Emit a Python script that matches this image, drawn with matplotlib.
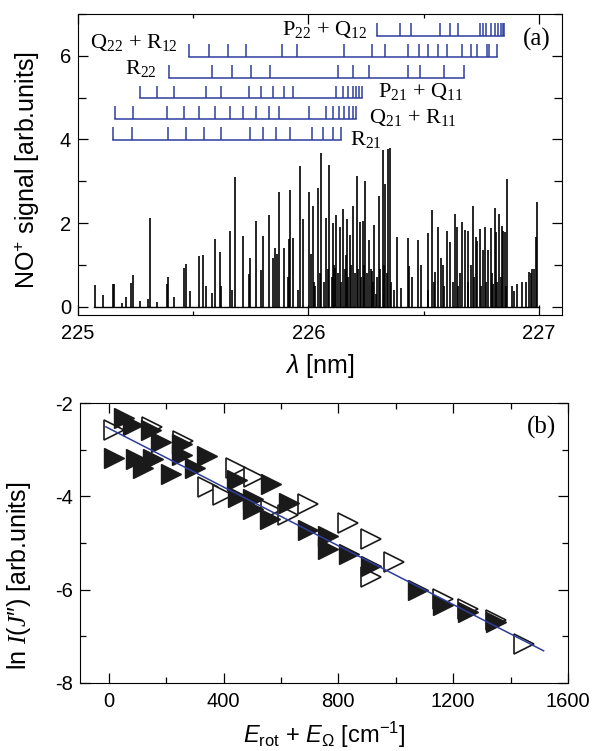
import matplotlib
matplotlib.use('Agg')
import matplotlib.pyplot as plt
from matplotlib.ticker import MultipleLocator

# fonts: sans for ticks/axis labels, serif for branch labels
plt.rcParams['font.family'] = ['Liberation Sans', 'DejaVu Sans']
plt.rcParams['mathtext.fontset'] = 'custom'
plt.rcParams['mathtext.rm'] = 'Liberation Sans'
plt.rcParams['mathtext.it'] = 'Liberation Sans:italic'
plt.rcParams['mathtext.sf'] = 'Liberation Serif'          # used for branch subscripts
plt.rcParams['mathtext.bf'] = 'Liberation Serif:italic'   # used for I, J
plt.rcParams['axes.unicode_minus'] = False

# ---- (a) REMPI spectrum: line positions [nm] and heights
peak_nm = [225.074, 225.110, 225.154, 225.158, 225.190, 225.208, 225.232, 225.237,
           225.268, 225.304, 225.312, 225.341, 225.384, 225.391, 225.416, 225.459,
           225.468, 225.485, 225.525, 225.544, 225.554, 225.580, 225.596, 225.615,
           225.622, 225.658, 225.668, 225.683, 225.716, 225.742, 225.748, 225.774,
           225.795, 225.804, 225.827, 225.845, 225.853, 225.863, 225.874, 225.892,
           225.910, 225.915, 225.921, 225.935, 225.954, 225.964, 225.978, 226.004,
           226.012, 226.019, 226.026, 226.042, 226.056, 226.077, 226.091, 226.108,
           226.117, 226.121, 226.137, 226.148, 226.163, 226.167, 226.181, 226.195,
           226.209, 226.225, 226.238, 226.247, 226.264, 226.276, 226.286, 226.293,
           226.305, 226.322, 226.333, 226.345, 226.354, 226.382, 226.401, 226.433,
           226.437, 226.449, 226.476, 226.488, 226.519, 226.536, 226.550, 226.560,
           226.574, 226.584, 226.599, 226.615, 226.635, 226.644, 226.657, 226.668,
           226.680, 226.694, 226.704, 226.714, 226.726, 226.733, 226.743, 226.758,
           226.766, 226.781, 226.791, 226.801, 226.810, 226.815, 226.827, 226.839,
           226.846, 226.853, 226.863, 226.882, 226.892, 226.906, 226.925, 226.942,
           226.957, 226.964, 226.971, 226.978, 226.986, 226.993]
peak_h = [0.51, 0.27, 0.55, 0.55, 0.08, 0.24, 0.57, 0.75,
          0.14, 0.18, 2.13, 0.10, 0.55, 0.70, 0.22, 0.92,
          1.02, 0.38, 1.22, 1.24, 0.50, 0.33, 1.62, 1.30,
          0.50, 1.82, 0.40, 3.10, 1.70, 0.77, 1.16, 2.05,
          0.88, 1.70, 2.20, 1.16, 1.40, 1.27, 2.75, 1.40,
          0.70, 1.62, 2.78, 1.63, 0.40, 3.36, 2.10, 2.75,
          1.27, 2.40, 0.60, 2.84, 3.67, 2.12, 3.40, 2.00,
          0.92, 2.20, 1.90, 2.33, 1.23, 2.10, 1.72, 2.40,
          3.13, 2.03, 2.05, 3.00, 1.60, 0.85, 1.95, 0.30,
          2.64, 3.75, 2.94, 3.78, 3.80, 1.66, 0.45, 1.64,
          0.98, 0.70, 1.60, 1.00, 1.75, 2.32, 0.83, 1.90,
          1.17, 1.00, 1.80, 1.55, 2.22, 1.90, 0.80, 2.03,
          1.83, 1.82, 1.00, 2.40, 1.67, 1.57, 1.85, 1.36,
          1.90, 1.35, 1.87, 0.55, 2.37, 1.79, 2.22, 1.93,
          1.80, 1.79, 3.06, 0.50, 0.38, 0.54, 0.60, 0.60,
          0.83, 0.80, 0.90, 0.90, 1.67, 2.50]
# weaker unresolved lines in the dense part
weak_nm = [226.030, 226.050, 226.068, 226.085, 226.100, 226.112, 226.128, 226.142,
           226.158, 226.172, 226.186, 226.200, 226.215, 226.230, 226.243, 226.255,
           226.270, 226.282, 226.298, 226.310, 226.328, 226.340, 226.360, 226.372,
           226.520, 226.545, 226.590, 226.625, 226.650, 226.690, 226.720, 226.750,
           226.770, 226.795, 226.820, 226.835, 226.858]
weak_h = [0.5, 0.8, 0.6, 0.9, 0.7, 1.0, 0.8, 0.6,
          0.9, 0.7, 1.0, 0.8, 0.9, 0.7, 1.0, 0.8,
          0.9, 0.6, 0.7, 0.9, 1.0, 0.8, 0.6, 0.4,
          0.4, 0.6, 0.5, 0.6, 0.5, 0.6, 0.7, 0.5,
          0.6, 0.8, 0.6, 0.7, 0.5]

# rotational branch assignments (line positions, nm) and their comb levels
branch_names = ['P$_{\\mathsf{22}}$ + Q$_{\\mathsf{12}}$', 'Q$_{\\mathsf{22}}$ + R$_{\\mathsf{12}}$',
                'R$_{\\mathsf{22}}$', 'P$_{\\mathsf{21}}$ + Q$_{\\mathsf{11}}$',
                'Q$_{\\mathsf{21}}$ + R$_{\\mathsf{11}}$', 'R$_{\\mathsf{21}}$']
branch_level = [6.48, 5.98, 5.48, 4.98, 4.49, 3.99]
branch_lines = [
    [226.297, 226.398, 226.447, 226.571, 226.613, 226.649, 226.743, 226.758, 226.772,
     226.791, 226.808, 226.823, 226.834, 226.844, 226.848],
    [225.481, 225.568, 225.651, 225.730, 225.884, 225.951, 226.156, 226.276, 226.332,
     226.433, 226.481, 226.519, 226.560, 226.603, 226.668, 226.704, 226.733, 226.776,
     226.784, 226.817],
    [225.395, 225.583, 225.668, 225.752, 225.831, 226.127, 226.195, 226.261, 226.433,
     226.484, 226.586, 226.675],
    [225.268, 225.343, 225.416, 225.557, 225.622, 225.742, 225.795, 225.846, 225.892,
     225.935, 226.120, 226.148, 226.170, 226.192, 226.207, 226.221, 226.232],
    [225.160, 225.237, 225.387, 225.459, 225.524, 225.596, 225.658, 225.716, 225.774,
     225.828, 225.874, 226.004, 226.077, 226.105, 226.131, 226.156, 226.177, 226.195,
     226.206],
    [225.150, 225.235, 225.391, 225.468, 225.545, 225.622, 225.748, 225.802, 225.860,
     225.918, 226.014, 226.062, 226.105, 226.141],
]

# ---- (b) Boltzmann plot
open_E = [18, 150, 258, 345, 397, 445, 505, 566, 626, 693, 835, 913, 914, 994,
          1163, 1253, 1348, 1446]
open_lnI = [-2.58, -2.52, -2.82, -3.80, -3.97, -3.40, -3.58, -4.29, -4.41, -4.17,
            -4.57, -4.91, -5.72, -5.41, -6.20, -6.42, -6.66, -7.16]
filled_E = [53, 86, 148, 20, 94, 119, 154, 181, 218, 257, 255, 299, 343, 448, 449,
            503, 503, 565, 563, 627, 693, 763, 763, 837, 914, 1076, 1163, 1253, 1348]
filled_lnI = [-2.33, -2.47, -2.57, -3.17, -3.19, -3.39, -3.21, -2.83, -3.53, -2.88,
              -3.12, -3.40, -3.14, -3.66, -4.02, -4.05, -4.27, -3.74, -4.49, -4.14,
              -4.72, -4.84, -5.13, -5.23, -5.50, -6.00, -6.33, -6.47, -6.70]
fit_E = [-10, 1515]
fit_lnI = [-2.51, -7.31]

blue = '#2e3d9c'

fig = plt.figure(figsize=(5.92, 7.51), dpi=100)

# ---------------- panel (a)
ax1 = fig.add_axes([78 / 592, 1 - 315 / 751, 484 / 592, 301 / 751])
ax1.plot([225.07, 227.0], [0, 0], color='black', lw=1.0)
ax1.vlines(peak_nm, 0, peak_h, color='black', lw=1.2)
ax1.vlines(weak_nm, 0, weak_h, color='black', lw=1.2)

for lines, lev in zip(branch_lines, branch_level):
    ax1.plot([lines[0], lines[-1]], [lev, lev], color=blue, lw=1.1)
    ax1.vlines(lines, lev, lev + 0.3, color=blue, lw=1.1)

serif = ['Liberation Serif', 'DejaVu Serif']
ax1.text(226.255, 6.62, branch_names[0], ha='right', va='center', fontsize=16, family=serif)
ax1.text(225.433, 6.31, branch_names[1], ha='right', va='center', fontsize=16, family=serif)
ax1.text(225.342, 5.67, branch_names[2], ha='right', va='center', fontsize=16, family=serif)
ax1.text(226.303, 5.13, branch_names[3], ha='left', va='center', fontsize=16, family=serif)
ax1.text(226.264, 4.50, branch_names[4], ha='left', va='center', fontsize=16, family=serif)
ax1.text(226.182, 3.98, branch_names[5], ha='left', va='center', fontsize=16, family=serif)
ax1.text(0.948, 0.914, '(a)', transform=ax1.transAxes, ha='center', va='center',
         fontsize=18, family=serif)

ax1.set_xlim(225, 227.1)
ax1.set_ylim(-0.2, 7.0)
ax1.xaxis.set_major_locator(MultipleLocator(1))
ax1.xaxis.set_minor_locator(MultipleLocator(0.5))
ax1.yaxis.set_major_locator(MultipleLocator(2))
ax1.yaxis.set_minor_locator(MultipleLocator(1))
ax1.tick_params(which='both', direction='in', top=True, right=True, labelsize=14.5, width=0.9)
ax1.tick_params(which='major', length=7)
ax1.tick_params(axis='x', which='minor', length=3)
ax1.tick_params(axis='y', which='minor', length=6)
ax1.tick_params(axis='x', pad=6.5)
ax1.tick_params(axis='y', pad=5)
ax1.set_xlabel('$\\lambda$ [nm]', fontsize=18)
ax1.set_ylabel('NO$^{+}$ signal [arb.units]', fontsize=18)
ax1.xaxis.set_label_coords(0.5, -0.123)
ax1.yaxis.set_label_coords(-0.074, 0.48)

# ---------------- panel (b)
ax2 = fig.add_axes([80 / 592, 1 - 683 / 751, 488 / 592, 280 / 751])
ax2.plot(open_E, open_lnI, ls='none', marker='>', ms=14.5, mfc='white', mec='#1a1a1a', mew=1.2)
ax2.plot(filled_E, filled_lnI, ls='none', marker='>', ms=14.5, mfc='#1a1a1a', mec='#1a1a1a', mew=1.0)
ax2.plot(fit_E, fit_lnI, color=blue, lw=1.1, zorder=5)
ax2.text(0.946, 0.9125, '(b)', transform=ax2.transAxes, ha='center', va='center',
         fontsize=18, family=serif)

ax2.set_xlim(-100, 1600)
ax2.set_ylim(-8, -2)
ax2.xaxis.set_major_locator(MultipleLocator(400))
ax2.xaxis.set_minor_locator(MultipleLocator(200))
ax2.yaxis.set_major_locator(MultipleLocator(2))
ax2.yaxis.set_minor_locator(MultipleLocator(1))
ax2.tick_params(which='both', direction='in', top=True, right=True, labelsize=14.5, width=0.9)
ax2.tick_params(which='major', length=7.5)
ax2.tick_params(which='minor', length=4.5)
ax2.tick_params(axis='x', pad=6.5)
ax2.tick_params(axis='y', pad=5)
ax2.set_xlabel('$E_{\\mathrm{rot}}$ + $E_{\\Omega}$ [cm$^{-1}$]', fontsize=17)
ax2.set_ylabel('ln $\\mathbf{I}$($\\mathbf{J}$\u2033) [arb.units]', fontsize=18)
ax2.xaxis.set_label_coords(0.5, -0.13)
ax2.yaxis.set_label_coords(-0.096, 0.382)

fig.savefig('out.png', dpi=100)
